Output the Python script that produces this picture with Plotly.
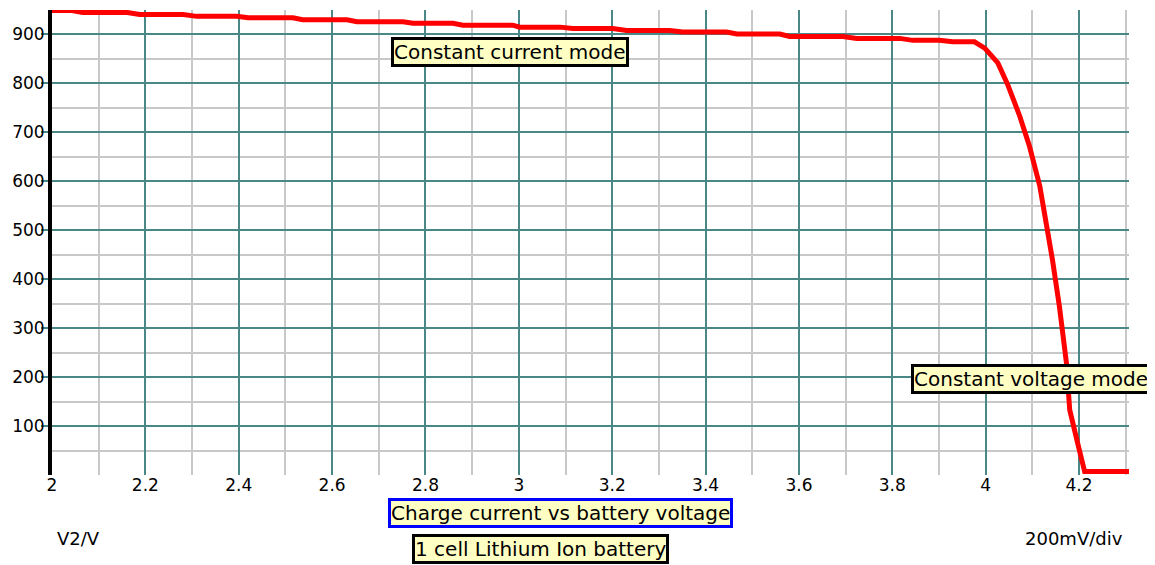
import plotly.graph_objects as go

# Battery voltage (V) and charge current (mA)
voltage = [2.000, 2.043, 2.066, 2.161, 2.188, 2.281, 2.310, 2.396, 2.420, 2.516,
           2.537, 2.632, 2.653, 2.752, 2.773, 2.859, 2.880, 2.987, 3.002, 3.088,
           3.116, 3.201, 3.231, 3.323, 3.351, 3.445, 3.467, 3.559, 3.580, 3.694,
           3.724, 3.816, 3.844, 3.901, 3.929, 3.976, 3.998, 4.026, 4.047, 4.073,
           4.094, 4.116, 4.143, 4.158, 4.173, 4.180, 4.197, 4.212, 4.308]
current = [949, 949, 945, 945, 941, 941, 937, 937, 934, 934,
           930, 930, 926, 926, 923, 923, 919, 919, 915, 915,
           912, 912, 908, 908, 905, 905, 901, 901, 896, 896,
           892, 892, 888, 888, 885, 885, 872, 842, 798, 733,
           671, 590, 440, 344, 229, 133, 65, 7, 7]

x_ticks = [2.0, 2.2, 2.4, 2.6, 2.8, 3.0, 3.2, 3.4, 3.6, 3.8, 4.0, 4.2]
x_tick_labels = ["2", "2.2", "2.4", "2.6", "2.8", "3", "3.2", "3.4", "3.6", "3.8", "4", "4.2"]
x_minor = [2.1, 2.3, 2.5, 2.7, 2.9, 3.1, 3.3, 3.5, 3.7, 3.9, 4.1, 4.3]
y_ticks = [100, 200, 300, 400, 500, 600, 700, 800, 900]
y_minor = [50, 150, 250, 350, 450, 550, 650, 750, 850]

TEAL = "#4a8888"
GREY = "#c8c8c8"
YEL = "#ffffc4"
FONT = "DejaVu Sans"

fig = go.Figure()
fig.add_trace(go.Scatter(x=voltage, y=current, mode="lines",
                         line=dict(color="#ff0000", width=5),
                         showlegend=False, hoverinfo="x+y"))

# the page body adds an 8px offset; margins compensate so the plot sits where the reference has it
fig.update_layout(
    width=1155, height=565,
    margin=dict(l=44, r=34, t=2, b=98, autoexpand=False),
    paper_bgcolor="white", plot_bgcolor="white",
    font=dict(family=FONT, size=17, color="black"),
    showlegend=False,
    xaxis=dict(range=[2.0, 4.307], tickmode="array", tickvals=x_ticks,
               ticktext=x_tick_labels, showgrid=True, gridcolor=TEAL, gridwidth=2,
               zeroline=False, showline=False, ticks="", automargin=False,
               ticklabelstandoff=-2,
               minor=dict(tickmode="array", tickvals=x_minor, showgrid=True,
                          gridcolor=GREY, gridwidth=2, ticks=""),
               tickfont=dict(family=FONT, size=17)),
    yaxis=dict(range=[0, 950], tickmode="array", tickvals=y_ticks,
               showgrid=True, gridcolor=TEAL, gridwidth=2, zeroline=False,
               showline=True, linecolor="black", linewidth=4, automargin=False,
               ticks="outside", ticklen=7, tickcolor=TEAL, tickwidth=2,
               ticklabelstandoff=-7,
               minor=dict(tickmode="array", tickvals=y_minor, showgrid=True,
                          gridcolor=GREY, gridwidth=2, ticks=""),
               tickfont=dict(family=FONT, size=17)),
)

ann_font = dict(family=FONT, size=20, color="black")
box = dict(showarrow=False, font=ann_font, bgcolor=YEL, borderwidth=3, borderpad=0,
           xanchor="center", yanchor="middle")
fig.add_annotation(x=2.981, y=864, xref="x", yref="y", text="Constant current mode",
                   bordercolor="black", **box)
fig.add_annotation(x=4.098, y=196, xref="x", yref="y", text="Constant voltage mode",
                   bordercolor="black", **box)
fig.add_annotation(x=0.4717, y=-0.0817, xref="paper", yref="paper",
                   text="Charge current vs battery voltage",
                   bordercolor="#0000ff", **box)
fig.add_annotation(x=0.454, y=-0.159, xref="paper", yref="paper",
                   text="1 cell Lithium Ion battery",
                   bordercolor="black", **box)
fig.add_annotation(x=0.003, y=-0.1355, xref="paper", yref="paper", text="V2/V",
                   showarrow=False, xanchor="left", yanchor="middle",
                   font=dict(family=FONT, size=18))
fig.add_annotation(x=0.9963, y=-0.1355, xref="paper", yref="paper", text="200mV/div",
                   showarrow=False, xanchor="right", yanchor="middle",
                   font=dict(family=FONT, size=18))

fig.write_html("out.html")
